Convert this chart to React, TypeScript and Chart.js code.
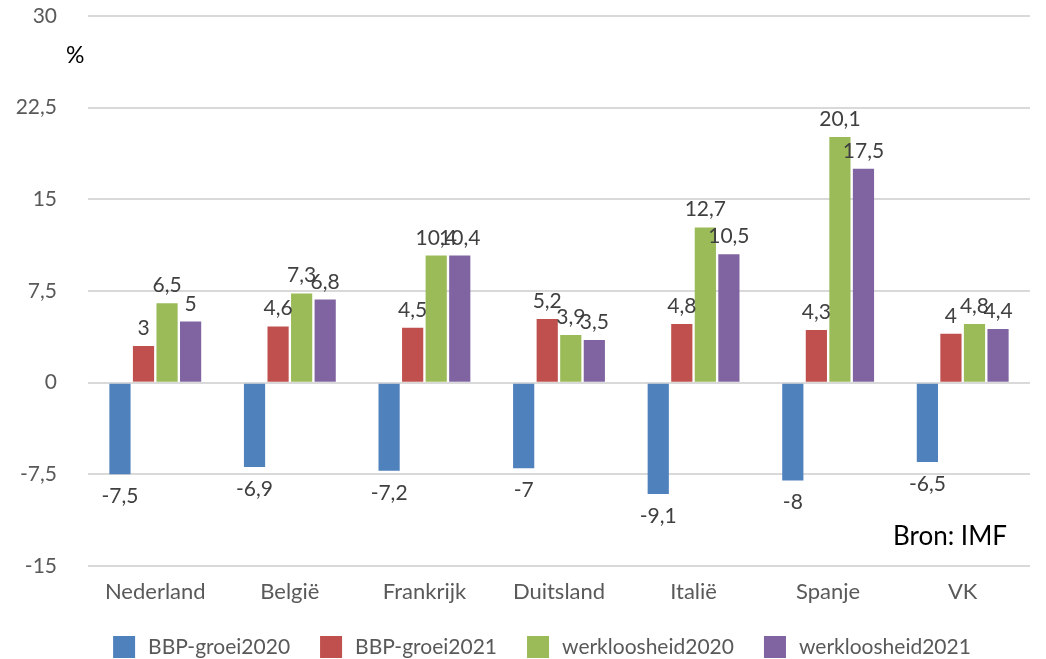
import React, { useEffect, useRef } from "react";
import { Chart, registerables } from "chart.js";

Chart.register(...registerables);

const categories = ["Nederland", "België", "Frankrijk", "Duitsland", "Italië", "Spanje", "VK"];
const seriesNames = ["BBP-groei2020", "BBP-groei2021", "werkloosheid2020", "werkloosheid2021"];
const bbpGroei2020 = [-7.5, -6.9, -7.2, -7, -9.1, -8, -6.5];
const bbpGroei2021 = [3, 4.6, 4.5, 5.2, 4.8, 4.3, 4];
const werkloosheid2020 = [6.5, 7.3, 10.4, 3.9, 12.7, 20.1, 4.8];
const werkloosheid2021 = [5, 6.8, 10.4, 3.5, 10.5, 17.5, 4.4];
const seriesColors = ["#4F81BD", "#C0504D", "#9BBB59", "#8064A2"];
const yMin = -15;
const yMax = 30;
const yStep = 7.5;
const unitLabel = "%";
const sourceLabel = "Bron: IMF";

const FONT = "Lato, 'Open Sans', sans-serif";
const fmt = (v: number) => String(v).replace(".", ",");

const dataLabelPlugin = {
  id: "dataLabels",
  afterDatasetsDraw(chart: any) {
    const ctx = chart.ctx;
    ctx.save();
    ctx.font = `21px ${FONT}`;
    ctx.fillStyle = "#404040";
    ctx.textAlign = "center";
    ctx.textBaseline = "alphabetic";
    chart.data.datasets.forEach((ds: any, di: number) => {
      const meta = chart.getDatasetMeta(di);
      meta.data.forEach((el: any, i: number) => {
        const v = ds.data[i] as number;
        const y = v >= 0 ? el.y - 11 : el.y + 29;
        ctx.fillText(fmt(v), el.x, y);
      });
    });
    ctx.restore();
  },
};

const legendPlugin = {
  id: "customLegend",
  afterDraw(chart: any) {
    const ctx = chart.ctx;
    ctx.save();
    ctx.font = `21px ${FONT}`;
    const box = 22;
    const gapText = 13;
    const gapItem = 30;
    const items = chart.data.datasets.map((ds: any) => ({
      label: ds.label as string,
      color: ds.backgroundColor as string,
      w: ctx.measureText(ds.label).width,
    }));
    const total =
      items.reduce((s: number, it: any) => s + box + gapText + it.w, 0) + gapItem * (items.length - 1);
    let x = 542 - total / 2;
    const yc = 647;
    items.forEach((it: any) => {
      ctx.fillStyle = it.color;
      ctx.fillRect(x, yc - box / 2, box, box);
      ctx.fillStyle = "#595959";
      ctx.textAlign = "left";
      ctx.textBaseline = "middle";
      ctx.fillText(it.label, x + box + gapText, yc);
      x += box + gapText + it.w + gapItem;
    });
    ctx.restore();
  },
};

const annotationPlugin = {
  id: "annotations",
  afterDraw(chart: any) {
    const ctx = chart.ctx;
    ctx.save();
    ctx.fillStyle = "#000000";
    ctx.textAlign = "left";
    ctx.textBaseline = "alphabetic";
    ctx.font = `23px ${FONT}`;
    ctx.fillText(unitLabel, 66, 63);
    ctx.font = `26px ${FONT}`;
    ctx.fillText(sourceLabel, 893, 545);
    ctx.restore();
  },
};

export default function App() {
  const ref = useRef<HTMLCanvasElement | null>(null);
  useEffect(() => {
    if (!ref.current) return;
    const series = [bbpGroei2020, bbpGroei2021, werkloosheid2020, werkloosheid2021];
    const chart = new Chart(ref.current, {
      type: "bar",
      data: {
        labels: categories,
        datasets: series.map((d, i) => ({
          label: seriesNames[i],
          data: d,
          backgroundColor: seriesColors[i],
          borderWidth: 0,
          categoryPercentage: 0.7,
          barPercentage: 0.9,
        })),
      },
      options: {
        responsive: false,
        animation: false,
        layout: { padding: { top: 16, left: 0, right: 16, bottom: 53 } },
        plugins: {
          tooltip: { enabled: false },
          legend: { display: false },
        },
        scales: {
          x: {
            grid: { display: false },
            border: { display: false },
            ticks: { color: "#595959", font: { family: FONT, size: 22 }, padding: 5 },
            afterFit: (s: any) => {
              s.height = 40;
            },
          },
          y: {
            min: yMin,
            max: yMax,
            ticks: {
              stepSize: yStep,
              color: "#595959",
              font: { family: FONT, size: 21 },
              padding: 31,
              callback: (v: any) => fmt(Number(v)),
            },
            grid: { color: "#d9d9d9", lineWidth: 2, drawTicks: false },
            border: { display: false },
            afterFit: (s: any) => {
              s.width = 88;
              s.paddingTop = 0;
              s.paddingBottom = 0;
            },
          },
        },
      },
      plugins: [dataLabelPlugin, legendPlugin, annotationPlugin],
    });
    return () => chart.destroy();
  }, []);
  return (
    <div style={{ position: "fixed", left: 0, top: 0, width: 1046, height: 659, background: "#fff" }}>
      <canvas ref={ref} width={1046} height={659} style={{ display: "block" }} />
    </div>
  );
}
